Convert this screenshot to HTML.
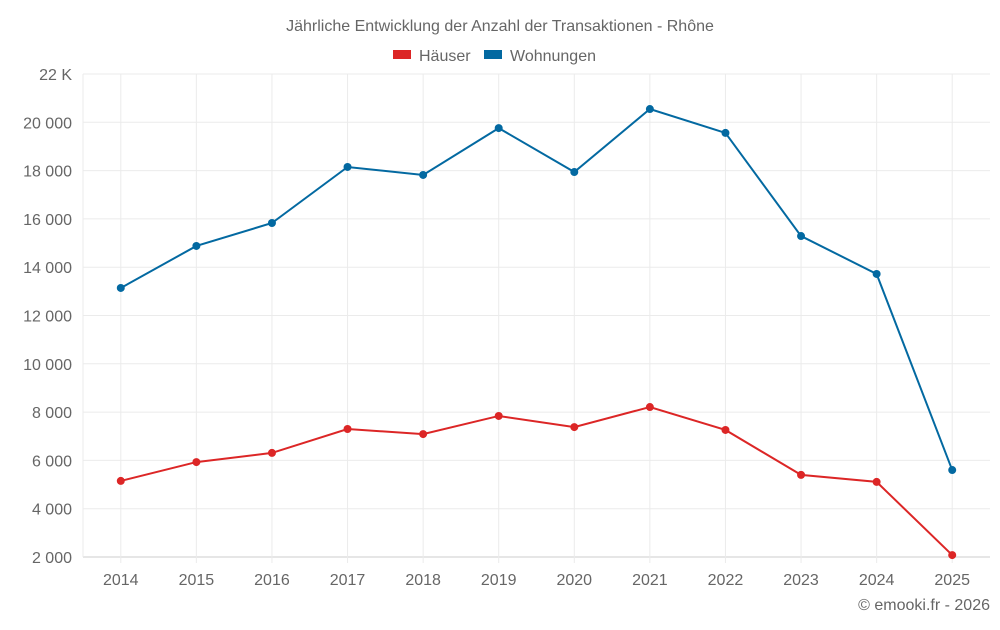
<!DOCTYPE html>
<html><head><meta charset="utf-8"><style>
body{margin:0;background:#fff;font-family:"Liberation Sans",sans-serif}
svg text{font-family:"Liberation Sans",sans-serif;fill:#666}
</style></head><body>
<svg id="c" width="1000" height="625">
<text x="500" y="31" text-anchor="middle" font-size="16">Jährliche Entwicklung der Anzahl der Transaktionen - Rhône</text>
<g><rect x="393" y="50" width="18" height="9" fill="#dc2626"/><text x="419" y="61" font-size="16">Häuser</text></g>
<g><rect x="484" y="50" width="18" height="9" fill="#0369a1"/><text x="510" y="61" font-size="16">Wohnungen</text></g>
<g id="grid"></g><g id="series"></g>
<text x="990" y="610" text-anchor="end" font-size="16">© emooki.fr - 2026</text>
</svg>
<script>
const categories=["2014","2015","2016","2017","2018","2019","2020","2021","2022","2023","2024","2025"];
const haeuser=[5150,5930,6310,7300,7090,7840,7380,8210,7260,5400,5110,2080];
const wohnungen=[13140,14880,15830,18150,17820,19760,17940,20550,19560,15290,13720,5600];
const yTicks=[2000,4000,6000,8000,10000,12000,14000,16000,18000,20000,22000];
const yTickLabels=["2 000","4 000","6 000","8 000","10 000","12 000","14 000","16 000","18 000","20 000","22 K"];
const NS="http://www.w3.org/2000/svg";
const x0=83,x1=990,yTop=74,yBot=557,yMin=2000,yMax=22000;
const step=(x1-x0)/categories.length;
const xs=i=>x0+step*(i+0.5);
const ys=v=>yBot-(v-yMin)/(yMax-yMin)*(yBot-yTop);
function mk(t,a,p){const e=document.createElementNS(NS,t);for(const k in a)e.setAttribute(k,a[k]);p.appendChild(e);return e;}
const g=document.getElementById('grid'),s=document.getElementById('series');
yTicks.forEach((v,i)=>{
 const l=mk('line',{x1:x0,x2:x1,y1:ys(v),y2:ys(v),stroke:i==0?'#ccc':'#ebebeb'},g);
 
 
 const t=mk('text',{x:72,y:ys(v)+6,'text-anchor':'end','font-size':16},g);t.textContent=yTickLabels[i];
 
 
});
mk('line',{x1:x0,x2:x0,y1:yTop,y2:yBot,stroke:'#ebebeb'},g);
categories.forEach((c,i)=>{
 const l=mk('line',{x1:xs(i),x2:xs(i),y1:yTop,y2:yBot+6,stroke:'#ebebeb'},g);
 
 
 const t=mk('text',{x:xs(i),y:585,'text-anchor':'middle','font-size':16},g);t.textContent=c;
 
 
});
function draw(data,color,name){
 const p=mk('polyline',{points:data.map((v,i)=>xs(i)+','+ys(v)).join(' '),fill:'none',stroke:color,'stroke-width':2},s);
 
 
 data.forEach((v,i)=>{const c=mk('circle',{cx:xs(i),cy:ys(v),r:4,fill:color},s);
 
 });
}
draw(wohnungen,'#0369a1','wohnungen');
draw(haeuser,'#dc2626','haeuser');
</script>
</body></html>
